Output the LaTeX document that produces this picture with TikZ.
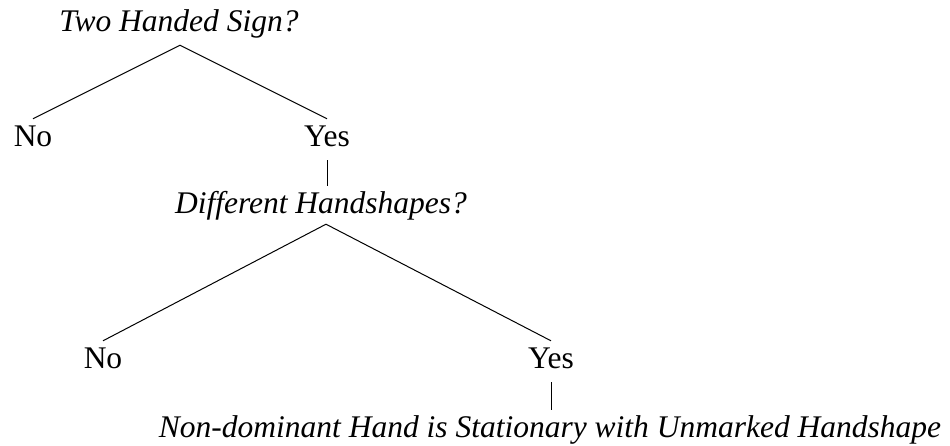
\documentclass[tikz,border=0pt]{standalone}
\usepackage{fontspec}
\setmainfont{Liberation Serif}
\begin{document}
\begin{tikzpicture}[x=1pt,y=-1pt,
  lbl/.style={anchor=base,inner xsep=0pt,inner ysep=6pt,text height=21pt,text depth=8pt,font=\fontsize{31.5}{36}\selectfont},
  qlbl/.style={lbl,font=\fontsize{31.5}{36}\selectfont\itshape},
  edge/.style={draw=black,line width=1pt}]
\useasboundingbox (0,0) rectangle (950,445);
\node[qlbl] (q1) at (179,31) {Two Handed Sign?};
\node[lbl] (n1) at (33,146) {No};
\node[lbl] (y1) at (327,146) {Yes};
\node[qlbl] (q2) at (321,213) {Different Handshapes?};
\node[lbl] (n2) at (103,368) {No};
\node[lbl] (y2) at (551,368) {Yes};
\node[qlbl] (leaf) at (550,437) {Non-dominant Hand is Stationary with Unmarked Handshape};
\coordinate (a1) at ([xshift=1pt]q1.south);
\coordinate (a2) at ([xshift=5pt,yshift=3pt]q2.south);
\draw[edge] (n1.north) -- (a1) -- (y1.north);
\draw[edge] (y1.south) -- (y1.south |- q2.north);
\draw[edge] (n2.north) -- (a2) -- (y2.north);
\draw[edge] (y2.south) -- (y2.south |- leaf.north);
\end{tikzpicture}
\end{document}
